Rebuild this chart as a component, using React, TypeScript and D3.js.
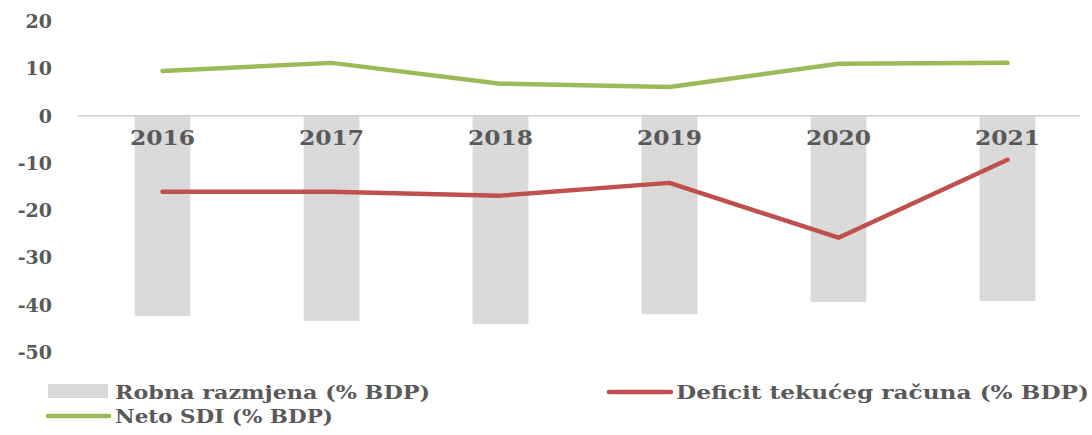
import React from "react";
import * as d3 from "d3";

const years = ["2016", "2017", "2018", "2019", "2020", "2021"];
const robna = [-42.4, -43.4, -44.1, -42.0, -39.4, -39.2];
const deficit = [-16.1, -16.1, -16.9, -14.2, -25.8, -9.3];
const netoSDI = [9.5, 11.2, 6.8, 6.1, 11.0, 11.2];
const yTicks = [20, 10, 0, -10, -20, -30, -40, -50];

const W = 1092;
const H = 435;
const FONT = "'DejaVu Serif', serif";
const TXT = "#595959";

export default function App() {
  const x = d3.scaleBand<string>().domain(years).range([78, 1092]).paddingInner(0.67).paddingOuter(0.335);
  const xc = (i: number) => (x(years[i]) as number) + x.bandwidth() / 2;
  const y = d3.scaleLinear().domain([-50, 20]).range([352, 21.3]);
  const line = d3.line<number>().x((_, i) => xc(i)).y((d) => y(d));

  return (
    <svg width={W} height={H} style={{ position: "absolute", left: 0, top: 0 }} fontFamily={FONT}>
      <defs>
        <pattern id="dots" width="2" height="2" patternUnits="userSpaceOnUse">
          <rect width="2" height="2" fill="#DCDCDC" />
          <rect width="1" height="1" fill="#D3D3D3" />
        </pattern>
      </defs>
      {yTicks.map((t) => (
        <text key={t} x={52} y={y(t)} dy="0.36em" textAnchor="end" fontSize={19} fontWeight="bold" fill={TXT}>
          {t}
        </text>
      ))}
      {robna.map((v, i) => (
        <rect key={i} x={x(years[i])} y={y(0)} width={x.bandwidth()} height={y(v) - y(0)} fill="url(#dots)" />
      ))}
      <line x1={78} x2={1080} y1={y(0)} y2={y(0)} stroke="#D0D0D0" strokeWidth={1.5} />
      {years.map((yr, i) => (
        <text key={yr} x={xc(i) - 32.5} y={138} dy="0.36em" fontSize={20} fontWeight="bold" fill={TXT}
          textLength={65} lengthAdjust="spacingAndGlyphs">
          {yr}
        </text>
      ))}
      <path d={line(deficit) || ""} fill="none" stroke="#C0504D" strokeWidth={4.5} strokeLinecap="round" strokeLinejoin="round" />
      <path d={line(netoSDI) || ""} fill="none" stroke="#9BBB59" strokeWidth={4.5} strokeLinecap="round" strokeLinejoin="round" />
      <g fontSize={19} fontWeight="bold" fill={TXT}>
        <rect x={48} y={384} width={60} height={14} fill="url(#dots)" />
        <text x={115} y={392} dy="0.36em" textLength={315} lengthAdjust="spacingAndGlyphs">Robna razmjena (% BDP)</text>
        <line x1={48} x2={109} y1={416} y2={416} stroke="#9BBB59" strokeWidth={4.5} strokeLinecap="round" />
        <text x={115} y={416} dy="0.36em" textLength={218} lengthAdjust="spacingAndGlyphs">Neto SDI (% BDP)</text>
        <line x1={609} x2={671} y1={392} y2={392} stroke="#C0504D" strokeWidth={4.5} strokeLinecap="round" />
        <text x={676} y={392} dy="0.36em" textLength={413} lengthAdjust="spacingAndGlyphs">Deficit tekućeg računa (% BDP)</text>
      </g>
    </svg>
  );
}
